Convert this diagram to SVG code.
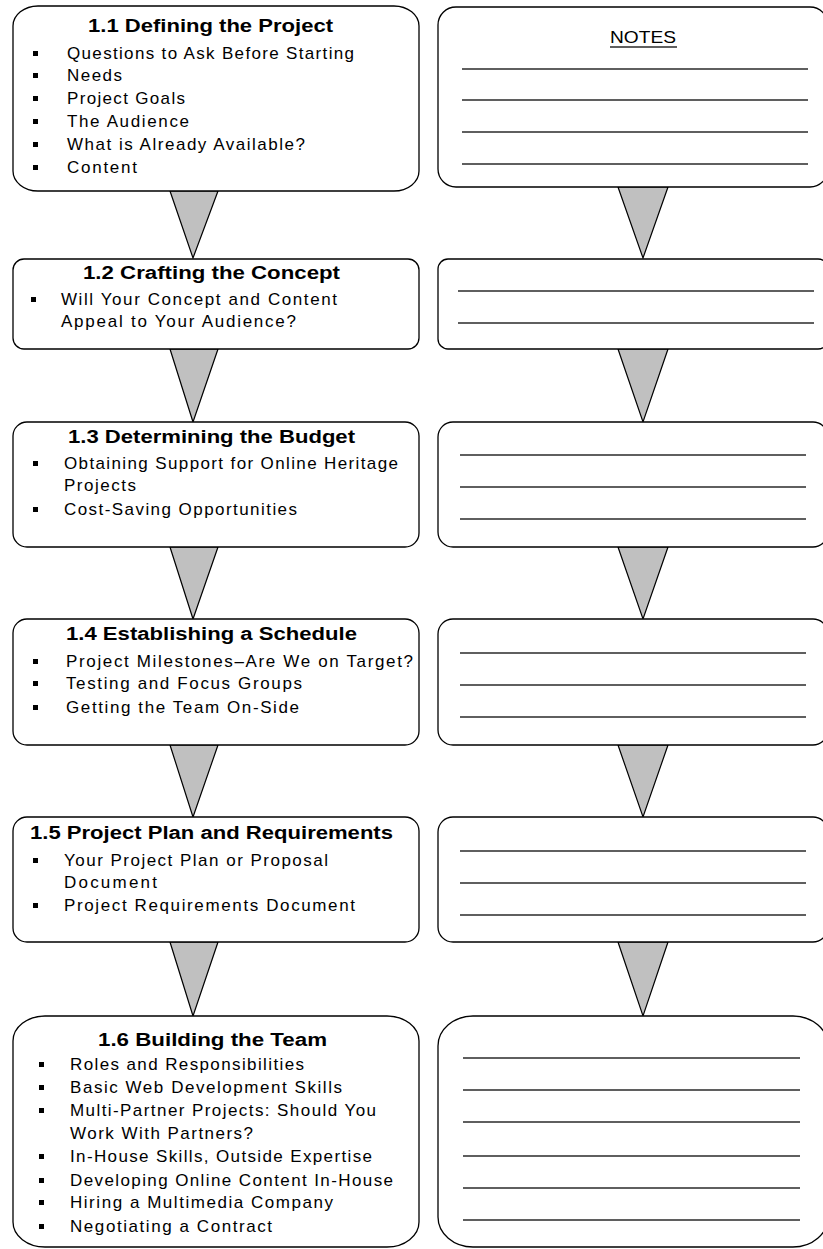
<svg xmlns="http://www.w3.org/2000/svg" width="823" height="1249" viewBox="0 0 823 1249">
  <style>
    .box { fill: #ffffff; stroke: #000000; stroke-width: 1.3; }
    .tri { fill: #c0c0c0; stroke: #000000; stroke-width: 1.2; stroke-linejoin: miter; }
    .rule { stroke: #2a2a2a; stroke-width: 1.6; }
    .title { font-family: "Liberation Sans", Arial, sans-serif; font-weight: bold; font-size: 18px; fill: #000000; }
    .item { font-family: "Liberation Sans", Arial, sans-serif; font-size: 17px; fill: #000000; }
    .notes { font-family: "Liberation Sans", Arial, sans-serif; font-size: 17px; fill: #000000; }
    .dot { fill: #000000; }
  </style>

  <!-- downward arrows between stages -->
  <g id="connectors">
    <polygon class="tri" points="170,191 218,191 193,258"/>
    <polygon class="tri" points="618,187 668,187 643,258"/>
    <polygon class="tri" points="170,349 218,349 193,422"/>
    <polygon class="tri" points="618,349 668,349 643,422"/>
    <polygon class="tri" points="170,547 218,547 193,619"/>
    <polygon class="tri" points="618,547 668,547 643,619"/>
    <polygon class="tri" points="170,745 218,745 193,817"/>
    <polygon class="tri" points="618,745 668,745 643,817"/>
    <polygon class="tri" points="170,942 218,942 193,1016"/>
    <polygon class="tri" points="618,942 668,942 643,1016"/>
  </g>

  <!-- 1.1 -->
  <g id="stage-1-1">
    <rect class="box" x="13" y="6" width="406" height="185" rx="25" ry="20"/>
    <text class="title" x="88" y="32" textLength="245" lengthAdjust="spacingAndGlyphs">1.1 Defining the Project</text>
    <rect class="dot" x="33" y="51" width="5" height="5"/>
    <text class="item" x="67" y="59" textLength="287" lengthAdjust="spacing">Questions to Ask Before Starting</text>
    <rect class="dot" x="33" y="73" width="5" height="5"/>
    <text class="item" x="67" y="81" textLength="55" lengthAdjust="spacing">Needs</text>
    <rect class="dot" x="33" y="96" width="5" height="5"/>
    <text class="item" x="67" y="104" textLength="118" lengthAdjust="spacing">Project Goals</text>
    <rect class="dot" x="33" y="119" width="5" height="5"/>
    <text class="item" x="67" y="127" textLength="122" lengthAdjust="spacing">The Audience</text>
    <rect class="dot" x="33" y="142" width="5" height="5"/>
    <text class="item" x="67" y="150" textLength="238" lengthAdjust="spacing">What is Already Available?</text>
    <rect class="dot" x="33" y="165" width="5" height="5"/>
    <text class="item" x="67" y="173" textLength="70" lengthAdjust="spacing">Content</text>
  </g>

  <g id="notes-1-1">
    <rect class="box" x="438" y="7" width="390" height="180" rx="18" ry="18"/>
    <text class="notes" x="643" y="43" text-anchor="middle" textLength="66" lengthAdjust="spacingAndGlyphs">NOTES</text>
    <line class="rule" x1="610" y1="47" x2="677" y2="47" style="stroke-width:1.4"/>
    <line class="rule" x1="462" y1="69" x2="808" y2="69"/>
    <line class="rule" x1="462" y1="100" x2="808" y2="100"/>
    <line class="rule" x1="462" y1="132" x2="808" y2="132"/>
    <line class="rule" x1="462" y1="164" x2="808" y2="164"/>
  </g>

  <!-- 1.2 -->
  <g id="stage-1-2">
    <rect class="box" x="13" y="259" width="406" height="90" rx="11" ry="11"/>
    <text class="title" x="83" y="279" textLength="257" lengthAdjust="spacingAndGlyphs">1.2 Crafting the Concept</text>
    <rect class="dot" x="31" y="297" width="5" height="5"/>
    <text class="item" x="61" y="305" textLength="276" lengthAdjust="spacing">Will Your Concept and Content</text>
    <text class="item" x="61" y="327" textLength="235" lengthAdjust="spacing">Appeal to Your Audience?</text>
  </g>

  <g id="notes-1-2">
    <rect class="box" x="438" y="259" width="390" height="90" rx="10" ry="10"/>
    <line class="rule" x1="458" y1="291" x2="814" y2="291"/>
    <line class="rule" x1="458" y1="323" x2="814" y2="323"/>
  </g>

  <!-- 1.3 -->
  <g id="stage-1-3">
    <rect class="box" x="13" y="422" width="406" height="125" rx="14" ry="14"/>
    <text class="title" x="68" y="443" textLength="287" lengthAdjust="spacingAndGlyphs">1.3 Determining the Budget</text>
    <rect class="dot" x="33" y="461" width="5" height="5"/>
    <text class="item" x="64" y="469" textLength="334" lengthAdjust="spacing">Obtaining Support for Online Heritage</text>
    <text class="item" x="64" y="491" textLength="72" lengthAdjust="spacing">Projects</text>
    <rect class="dot" x="33" y="507" width="5" height="5"/>
    <text class="item" x="64" y="515" textLength="233" lengthAdjust="spacing">Cost-Saving Opportunities</text>
  </g>

  <g id="notes-1-3">
    <rect class="box" x="438" y="422" width="390" height="125" rx="15" ry="15"/>
    <line class="rule" x1="460" y1="455" x2="806" y2="455"/>
    <line class="rule" x1="460" y1="487" x2="806" y2="487"/>
    <line class="rule" x1="460" y1="519" x2="806" y2="519"/>
  </g>

  <!-- 1.4 -->
  <g id="stage-1-4">
    <rect class="box" x="13" y="619" width="406" height="126" rx="14" ry="14"/>
    <text class="title" x="66" y="640" textLength="291" lengthAdjust="spacingAndGlyphs">1.4 Establishing a Schedule</text>
    <rect class="dot" x="33" y="659" width="5" height="5"/>
    <text class="item" x="66" y="667" textLength="347" lengthAdjust="spacing">Project Milestones–Are We on Target?</text>
    <rect class="dot" x="33" y="681" width="5" height="5"/>
    <text class="item" x="66" y="689" textLength="236" lengthAdjust="spacing">Testing and Focus Groups</text>
    <rect class="dot" x="33" y="705" width="5" height="5"/>
    <text class="item" x="66" y="713" textLength="233" lengthAdjust="spacing">Getting the Team On-Side</text>
  </g>

  <g id="notes-1-4">
    <rect class="box" x="438" y="619" width="390" height="126" rx="15" ry="15"/>
    <line class="rule" x1="460" y1="653" x2="806" y2="653"/>
    <line class="rule" x1="460" y1="685" x2="806" y2="685"/>
    <line class="rule" x1="460" y1="717" x2="806" y2="717"/>
  </g>

  <!-- 1.5 -->
  <g id="stage-1-5">
    <rect class="box" x="13" y="817" width="406" height="125" rx="14" ry="14"/>
    <text class="title" x="30" y="839" textLength="363" lengthAdjust="spacingAndGlyphs">1.5 Project Plan and Requirements</text>
    <rect class="dot" x="33" y="858" width="5" height="5"/>
    <text class="item" x="64" y="866" textLength="264" lengthAdjust="spacing">Your Project Plan or Proposal</text>
    <text class="item" x="64" y="888" textLength="93" lengthAdjust="spacing">Document</text>
    <rect class="dot" x="33" y="903" width="5" height="5"/>
    <text class="item" x="64" y="911" textLength="291" lengthAdjust="spacing">Project Requirements Document</text>
  </g>

  <g id="notes-1-5">
    <rect class="box" x="438" y="817" width="390" height="125" rx="15" ry="15"/>
    <line class="rule" x1="460" y1="851" x2="806" y2="851"/>
    <line class="rule" x1="460" y1="883" x2="806" y2="883"/>
    <line class="rule" x1="460" y1="915" x2="806" y2="915"/>
  </g>

  <!-- 1.6 -->
  <g id="stage-1-6">
    <rect class="box" x="13" y="1016" width="406" height="231" rx="32" ry="25"/>
    <text class="title" x="98" y="1046" textLength="229" lengthAdjust="spacingAndGlyphs">1.6 Building the Team</text>
    <rect class="dot" x="39" y="1062" width="5" height="5"/>
    <text class="item" x="70" y="1070" textLength="234" lengthAdjust="spacing">Roles and Responsibilities</text>
    <rect class="dot" x="39" y="1085" width="5" height="5"/>
    <text class="item" x="70" y="1093" textLength="272" lengthAdjust="spacing">Basic Web Development Skills</text>
    <rect class="dot" x="39" y="1108" width="5" height="5"/>
    <text class="item" x="70" y="1116" textLength="306" lengthAdjust="spacing">Multi-Partner Projects: Should You</text>
    <text class="item" x="70" y="1139" textLength="183" lengthAdjust="spacing">Work With Partners?</text>
    <rect class="dot" x="39" y="1154" width="5" height="5"/>
    <text class="item" x="70" y="1162" textLength="302" lengthAdjust="spacing">In-House Skills, Outside Expertise</text>
    <rect class="dot" x="39" y="1178" width="5" height="5"/>
    <text class="item" x="70" y="1186" textLength="323" lengthAdjust="spacing">Developing Online Content In-House</text>
    <rect class="dot" x="39" y="1200" width="5" height="5"/>
    <text class="item" x="70" y="1208" textLength="263" lengthAdjust="spacing">Hiring a Multimedia Company</text>
    <rect class="dot" x="39" y="1224" width="5" height="5"/>
    <text class="item" x="70" y="1232" textLength="202" lengthAdjust="spacing">Negotiating a Contract</text>
  </g>

  <g id="notes-1-6">
    <rect class="box" x="438" y="1016" width="390" height="231" rx="35" ry="30"/>
    <line class="rule" x1="463" y1="1058" x2="800" y2="1058"/>
    <line class="rule" x1="463" y1="1090" x2="800" y2="1090"/>
    <line class="rule" x1="463" y1="1122" x2="800" y2="1122"/>
    <line class="rule" x1="463" y1="1156" x2="800" y2="1156"/>
    <line class="rule" x1="463" y1="1188" x2="800" y2="1188"/>
    <line class="rule" x1="463" y1="1220" x2="800" y2="1220"/>
  </g>
</svg>
